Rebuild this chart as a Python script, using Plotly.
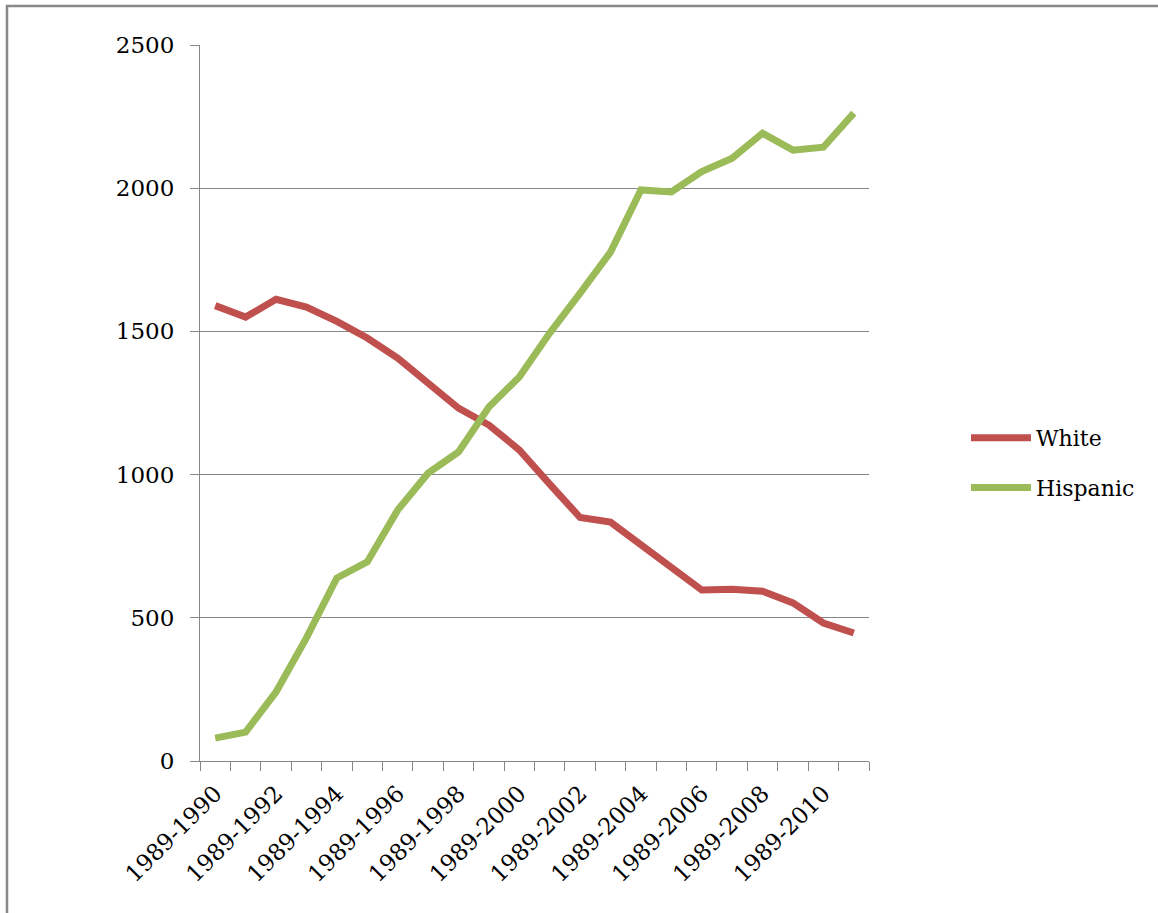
import plotly.graph_objects as go

categories = [f"1989-{y}" for y in range(1990, 2012)]
white = [1590, 1550, 1612, 1585, 1535, 1477, 1407, 1320, 1232, 1173, 1086, 967,
         850, 834, 754, 674, 597, 600, 593, 552, 482, 447]
hispanic = [80, 101, 241, 430, 639, 695, 876, 1005, 1079, 1236, 1341, 1494,
            1634, 1777, 1994, 1987, 2058, 2105, 2192, 2133, 2143, 2262]
yticks = [0, 500, 1000, 1500, 2000, 2500]

W, H = 1158, 913
L, R, T, B = 200, 289, 45, 152
pw, ph = W - L - R, H - T - B

font_family = "DejaVu Serif"
grid = "#868686"

fig = go.Figure()
fig.add_trace(go.Scatter(x=categories, y=white, name="White", mode="lines",
                         line=dict(color="#C0504D", width=7), legendgroup="w"))
fig.add_trace(go.Scatter(x=categories, y=hispanic, name="Hispanic", mode="lines",
                         line=dict(color="#9BBB59", width=7), legendgroup="h"))

ticktext = [c if i % 2 == 0 else "" for i, c in enumerate(categories)]

fig.update_layout(
    width=W, height=H,
    margin=dict(l=L, r=R, t=T, b=B, pad=0),
    paper_bgcolor="white", plot_bgcolor="white",
    font=dict(family=font_family, size=22, color="black"),
    showlegend=True,
    legend=dict(x=(966 - L) / pw, y=(761 - 463) / ph, xanchor="left", yanchor="middle",
                font=dict(family=font_family, size=22, color="black"),
                tracegroupgap=18, itemwidth=60, bgcolor="rgba(0,0,0,0)"),
    xaxis=dict(type="category", tickmode="array", tickvals=categories, ticktext=ticktext,
               tickson="boundaries", ticks="outside", ticklen=9, tickcolor=grid, tickwidth=1,
               tickangle=-45, showline=True, linecolor=grid, linewidth=1,
               showgrid=False, zeroline=False, range=[-0.5, len(categories) - 0.5],
               tickfont=dict(family=font_family, size=23, color="black"),
               ticklabelstandoff=9),
    yaxis=dict(range=[0, 2500], tickvals=yticks, ticks="outside", ticklen=9, tickcolor=grid,
               showline=True, linecolor=grid, linewidth=1, showgrid=True, gridcolor=grid,
               gridwidth=1, zeroline=False,
               tickfont=dict(family=font_family, size=23, color="black"),
               ticklabelstandoff=11),
)

# outer frame (chart area border)
fig.add_shape(type="rect", xref="paper", yref="paper",
              x0=(7 - L) / pw, x1=(W + 20 - L) / pw,
              y0=(H - B - (H + 20)) / ph, y1=(H - B - 6) / ph,
              line=dict(color="#888888", width=2.5), fillcolor="rgba(0,0,0,0)", layer="below")

fig.write_html("out.html")
